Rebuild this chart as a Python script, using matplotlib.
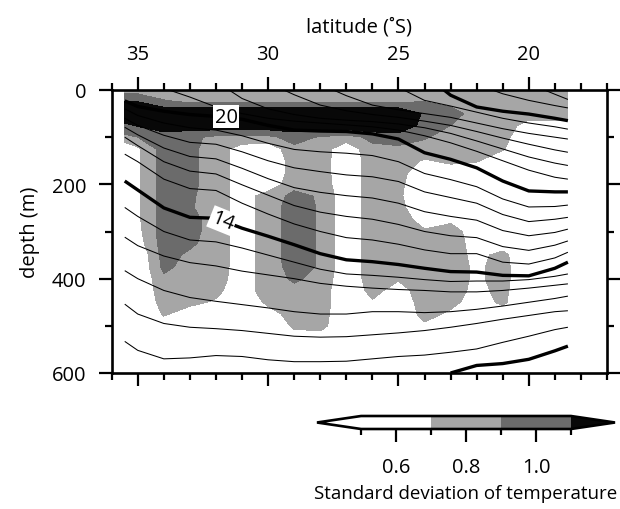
import numpy as np
import matplotlib
matplotlib.use("Agg")
import matplotlib.pyplot as plt
from matplotlib.colors import ListedColormap, BoundaryNorm
from matplotlib.ticker import MultipleLocator

plt.rcParams['font.family'] = ['Open Sans', 'DejaVu Sans']

# ---------------- data ----------------
lat = [35.5, 35, 34, 33, 32, 31, 30, 29, 28, 27, 26, 25, 24, 23, 22, 21, 20, 19, 18.5]
depth = [0, 25, 50, 75, 100, 125, 150, 175, 200, 225, 250, 275, 300, 325, 350,
         375, 400, 425, 450, 475, 500, 525, 550, 575, 600]

# standard deviation of temperature, one list per latitude column (depth 0 -> 600 m)
sd_35_5 = [.80, 1.12, 1.30, 1.05, .85] + [.50] * 20
sd_35 = [.80, 1.10, 1.30, 1.12, .90, .66, .66, .66, .66, .66, .66, .66, .64, .60] + [.50] * 11
sd_34 = [.80, .92, 1.30, 1.22, 1.0, 1.0, 1.0, 1.0, 1.0, 1.0, 1.0, 1.0, 1.0, 1.0, .98, .95,
         .86, .82, .78, .72, .60, .50, .50, .50, .50]
sd_33 = [.80, .88, 1.30, 1.22, .95, .95, .95, .95, .95, .93, .92, .96, .96, .94, .86, .82,
         .80, .80, .74, .62, .50, .50, .50, .50, .50]
sd_32 = [.80, .88, 1.30, 1.25, .85, .80, .80, .80, .80, .80, .80, .82, .82, .80, .80, .80,
         .78, .74, .68, .55, .50, .50, .50, .50, .50]
sd_31 = [.80, .88, 1.30, 1.25, .85] + [.60] * 13 + [.55] + [.50] * 6
sd_30 = [.80, .88, 1.30, 1.25, .85, .55, .50, .50, .55, .80, .80, .80, .80, .80, .80, .80,
         .80, .80, .74, .62, .50, .50, .50, .50, .50]
sd_29 = [.80, .88, 1.30, 1.25, .98, .85, .80, .80, .84, .95, 1.0, 1.0, 1.0, 1.0, 1.0, .98,
         .93, .85, .80, .78, .74, .60, .50, .50, .50]
sd_28 = [.80, .88, 1.30, 1.25, .88, .82, .80, .80, .82, .88, .88, .88, .88, .88, .88, .88,
         .84, .80, .80, .78, .76, .62, .50, .50, .50]
sd_27 = [.80, .88, 1.30, 1.25, .82] + [.55] * 20
sd_26 = [.80, .88, 1.30, 1.28, .95, .85, .80, .80, .80, .80, .80, .80, .80, .80, .80, .80,
         .80, .76, .68, .55, .50, .50, .50, .50, .50]
sd_25 = [.80, .88, 1.30, 1.28, 1.0, .86, .80, .78, .76, .74, .76, .80, .80, .80, .80, .80,
         .72, .62, .55, .50, .50, .50, .50, .50, .50]
sd_24 = [.80, .90, 1.07, 1.02, .92, .82, .68, .55, .50, .50, .55, .62, .72, .80, .80, .80,
         .80, .80, .80, .78, .66, .50, .50, .50, .50]
sd_23 = [.80, .86, .95, .90, .82, .80, .74, .60, .50, .50, .55, .66, .78, .80, .80, .80,
         .80, .80, .76, .66, .50, .50, .50, .50, .50]
sd_22 = [.80, .82, .85, .80, .80, .78, .72, .55, .50, .50, .50, .50, .60, .62, .64, .66,
         .66, .64, .60, .50, .50, .50, .50, .50, .50]
sd_21 = [.80, .80, .80, .80, .78, .72, .55, .50, .50, .50, .50, .50, .50, .58, .76, .78,
         .78, .76, .74, .60, .50, .50, .50, .50, .50]
sd_20 = [.80, .80, .80, .62] + [.50] * 21
sd_19 = [.80, .80, .80, .62] + [.50] * 21
sd_18_5 = [.80, .80, .80, .62] + [.50] * 21

sd_levels = [0.5, 0.7, 0.9, 1.1]
sd_ticks = [0.6, 0.8, 1.0]

# isotherm depths (m) on the same latitude grid, NaN where the isotherm is absent
N = np.nan
iso_temps = list(range(8, 29))
iso_08 = [N] * 13 + [600, 584, 580, 571, 553, 543]
iso_09 = [533, 552, 570, 568, 563, 565, 572, 576, 576, 575, 570, 565, 562, 556, 549, 535, 522, 508, 503]
iso_10 = [454, 475, 495, 503, 506, 510, 516, 522, 524, 523, 519, 515, 510, 503, 495, 486, 478, 470, 468]
iso_11 = [383, 400, 425, 440, 448, 455, 462, 470, 475, 475, 470, 470, 472, 470, 465, 458, 450, 442, 437]
iso_12 = [312, 330, 352, 366, 373, 384, 392, 400, 410, 416, 420, 423, 425, 428, 428, 425, 420, 414, 411]
iso_13 = [249, 268, 300, 318, 322, 335, 350, 365, 380, 390, 393, 397, 402, 406, 405, 405, 402, 395, 390]
iso_14 = [193, 212, 250, 270, 272, 293, 310, 328, 347, 360, 364, 370, 378, 385, 386, 393, 394, 378, 365]
iso_15 = [136, 152, 189, 209, 213, 240, 263, 284, 300, 313, 318, 327, 339, 347, 347, 365, 369, 356, 344]
iso_16 = [100, 118, 152, 172, 178, 201, 223, 245, 259, 268, 274, 285, 300, 309, 313, 332, 340, 329, 320]
iso_17 = [79, 95, 123, 141, 146, 166, 188, 207, 217, 224, 229, 240, 258, 268, 276, 298, 309, 302, 295]
iso_18 = [60, 75, 96, 111, 115, 131, 150, 165, 173, 180, 184, 194, 216, 228, 240, 264, 279, 274, 270]
iso_19 = [40, 54, 70, 80, 85, 97, 113, 126, 131, 134, 139, 152, 177, 190, 205, 231, 248, 247, 244]
iso_20 = [23, 35, 45, 52, 56, 62, 75, 85, 87, 88, 93, 104, 133, 147, 165, 193, 214, 216, 216]
iso_21 = [N, N, N, 15, 36, 50, 60, 66, 70, 74, 78, 85, 97, 112, 130, 150, 170, 185, 189]
iso_22 = [N, N, N, N, N, 18, 40, 52, 60, 64, 67, 72, 80, 92, 108, 125, 142, 155, 160]
iso_23 = [N] * 7 + [10, 32, 44, 52, 58, 66, 75, 88, 102, 115, 127, 132]
iso_24 = [N] * 9 + [12, 32, 42, 50, 58, 70, 82, 92, 100, 104]
iso_25 = [N] * 12 + [22, 34, 47, 60, 70, 78, 83]
iso_26 = [N] * 13 + [11, 36, 45, 51, 60, 65]
iso_27 = [N] * 15 + [8, 22, 33, 38]
iso_28 = [N] * 17 + [9, 20]

outcrop_temps = [21, 22, 23, 24, 25, 26, 27, 28]
outcrop_lat = [33.8, 31.5, 29.4, 27.5, 24.8, 23.25, 21.4, 19.4]
thick_temps = [8, 14, 20, 26]

label_temps = [20, 14]
label_lat = [31.6, 31.75]
label_depth = [57, 277]

# ---------------- figure ----------------
sd_grid = np.array([sd_35_5, sd_35, sd_34, sd_33, sd_32, sd_31, sd_30, sd_29, sd_28, sd_27,
                    sd_26, sd_25, sd_24, sd_23, sd_22, sd_21, sd_20, sd_19, sd_18_5]).T
iso_rows = [iso_08, iso_09, iso_10, iso_11, iso_12, iso_13, iso_14, iso_15, iso_16, iso_17,
            iso_18, iso_19, iso_20, iso_21, iso_22, iso_23, iso_24, iso_25, iso_26, iso_27, iso_28]

W, H = 620, 510
fig = plt.figure(figsize=(W / 100, H / 100), dpi=100)
ax = fig.add_axes([111.7 / W, 1 - 374 / H, (607 - 111.7) / W, (374 - 91) / H])

cmap = ListedColormap(['#ffffff', '#a6a6a6', '#6b6b6b']).with_extremes(under='#ffffff', over='#080808')
norm = BoundaryNorm(sd_levels, 3)
cs = ax.contourf(lat, depth, sd_grid, levels=sd_levels, cmap=cmap, norm=norm, extend='both')

lat_arr = np.array(lat, dtype=float)
for t, row in zip(iso_temps, iso_rows):
    d = np.array(row, dtype=float)
    ok = ~np.isnan(d)
    xs = list(lat_arr[ok])
    ys = list(d[ok])
    if t in outcrop_temps:
        xs = [outcrop_lat[outcrop_temps.index(t)]] + xs
        ys = [0] + ys
    lw = 2.4 if t in thick_temps else 0.75
    ax.plot(xs, ys, color='black', lw=lw, solid_capstyle='butt', solid_joinstyle='round', zorder=3)

for t, la, de, rot in zip(label_temps, label_lat, label_depth, [0, -22]):
    ax.text(la, de, str(t), ha='center', va='center', fontsize=14.5, rotation=rot, zorder=5,
            bbox=dict(facecolor='white', edgecolor='none', pad=1.0))

ax.set_xlim(36, 17)
ax.set_ylim(600, 0)
ax.xaxis.set_major_locator(MultipleLocator(5))
ax.xaxis.set_minor_locator(MultipleLocator(1))
ax.yaxis.set_major_locator(MultipleLocator(200))
ax.yaxis.set_minor_locator(MultipleLocator(100))
ax.tick_params(which='both', direction='out', top=True, bottom=True, left=True, right=True,
               labeltop=True, labelbottom=False, width=1.6, colors='black')
ax.tick_params(which='major', length=9.5, pad=9, labelsize=14.5)
ax.tick_params(which='minor', length=5)
for s in ax.spines.values():
    s.set_linewidth(1.9)
    s.set_zorder(6)
ax.xaxis.set_label_position('top')
ax.set_xlabel('latitude (˚S)', fontsize=14.5, labelpad=9)
ax.set_ylabel('depth (m)', fontsize=14.5, labelpad=8)

cax = fig.add_axes([317 / W, 1 - 430 / H, (615 - 317) / W, 13 / H])
cb = fig.colorbar(cs, cax=cax, orientation='horizontal', extendfrac=0.21)
cb.set_ticks(sd_ticks)
cb.set_ticks(sd_levels, minor=True)
cb.ax.tick_params(which='both', direction='out', width=1.6, colors='black')
cb.ax.tick_params(which='major', length=9.5, pad=11, labelsize=14.5)
cb.ax.tick_params(which='minor', length=4)
cb.outline.set_linewidth(1.9)
cb.set_label('Standard deviation of temperature', fontsize=13.5, labelpad=5)

fig.savefig('out.png', dpi=100)
